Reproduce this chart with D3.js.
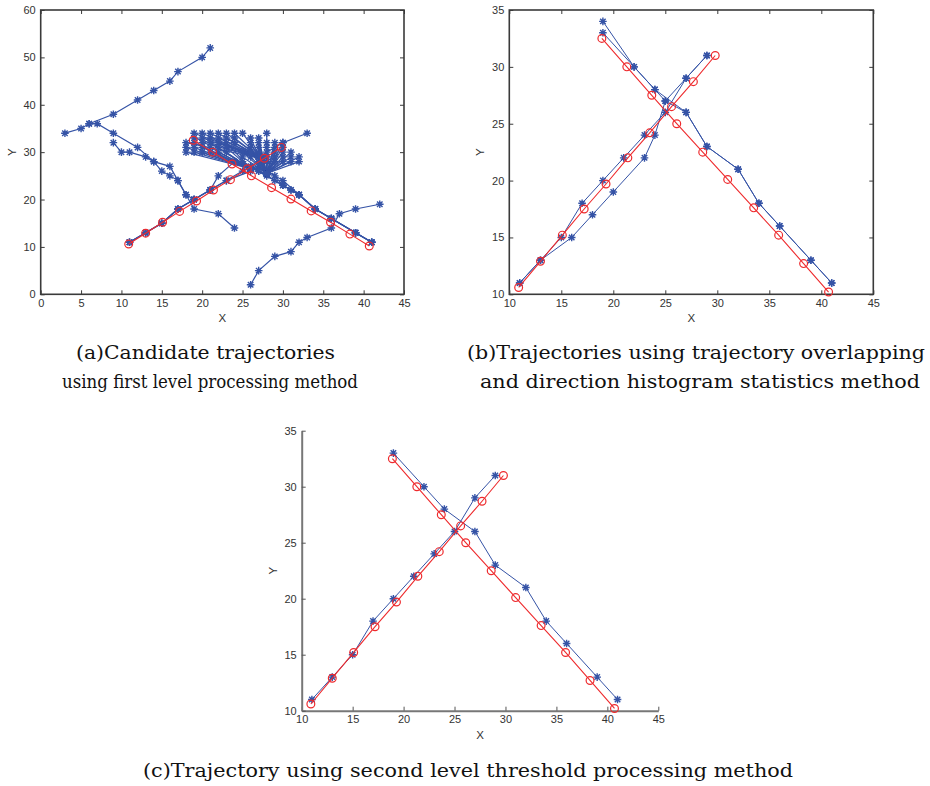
<!DOCTYPE html>
<html>
<head>
<meta charset="utf-8">
<script src="https://cdn.jsdelivr.net/npm/d3@7"></script>
<style>
body{margin:0;background:#fff}
svg{display:block}
</style>
</head>
<body>
<svg id="fig" width="930" height="786"></svg>
<script>
// ground truth (red) - same in all three panels
const redRising  = [[10.9,10.6],[13.0,12.9],[15.1,15.2],[17.2,17.5],[19.3,19.7],[21.4,22.0],[23.5,24.2],[25.6,26.5],[27.7,28.7],[29.8,31.0]]
const redFalling = [[18.9,32.5],[21.3,30.0],[23.7,27.5],[26.1,25.0],[28.6,22.5],[31.0,20.1],[33.5,17.6],[35.9,15.2],[38.3,12.7],[40.7,10.2]]

// (a) candidate trajectories
const aTracks = [
	[[3,34],[5,35],[6,36],[9,38],[12,41],[14,43],[16,45],[17,47],[20,50],[21,52]],
	[[6,36],[7,36],[9,34],[12,31],[14,28],[16,27],[17,24],[18,21],[19,20]],
	[[9,32],[10,30],[11,30],[13,29],[14,28],[15,26],[16,25],[17,24],[18,21],[19,18],[22,17],[24,14]],
	[[26,2],[27,5],[29,8],[31,9],[32,11],[33,12],[36,14],[37,17],[39,18],[42,19]],
	[[11,11],[13,13],[15,15],[17,18],[19,20],[21,22],[23,24],[25,26],[27,28],[28,29]],
	[[11,11],[13,13],[15,15],[17,18],[19,20],[21,22],[23,24],[26,26],[28,28]],
	[[11,11],[13,13],[15,15],[17,18],[19,20],[21,22],[22,25],[24,28]],
	[[24,28],[26,27],[28,25],[30,23],[32,21],[34,18],[36,16],[39,13],[41,11]],
	[[25,28],[27,26],[29,24],[31,22],[32,21],[34,18],[36,16],[39,13],[41,11]],
	[[26,27],[28,26],[30,24],[32,21],[34,18],[36,16],[39,13],[41,11]],
	[[27,27],[29,25],[30,23],[31,22],[32,21],[34,18],[36,16],[39,13],[41,11]],
	[[27,29],[30,32],[33,34]],
	[[24,28],[27,26],[30,23]]
]
const aLeftUpper = [
	[19,34],[20,34],[21,34],[22,34],[23,34],[24,34],[25,34],
	[19,33],[20,33],[21,33],[22,33],[23,33],[24,33],
	[18,32],[20,32],[22,32],[24,32]
]
const aLeftUpperHub = [27.3,28.7]
const aLeftLower = [
	[19,32],[21,32],[23,32],
	[18,31],[19,31],[20,31],[21,31],[22,31],[23,31],
	[18,30],[19,30],[20,30],[21,30],[22,30],[23,30]
]
const aLeftLowerHub = [26,26.5]
const aRightBlock = [
	[26,33],[27,33],[28,34],
	[26,32],[27,32],[28,32],[29,32],[30,32],
	[26,31],[27,31],[28,31],[29,31],[30,31],
	[25,30],[26,30],[27,30],[28,30],[29,30],[30,30],[31,30],
	[25,29],[26,29],[27,29],[28,29],[29,29],[30,29],[31,29],[32,29],
	[27,28],[28,28],[29,28],[30,28],[31,28],[32,28]
]
const aRightHub = [28,25.5]

// (b) trajectories after overlapping / direction histogram
const bTracks = [
	[[11,11],[13,13],[15,15],[17,18],[19,20],[21,22],[23,24],[25,26],[27,29],[29,31]],
	[[11,11],[13,13],[16,15],[18,17],[20,19],[23,22],[24,24],[25,27],[27,29],[29,31]],
	[[19,34],[22,30],[24,28],[27,26],[29,23],[32,21],[34,18],[36,16],[39,13],[41,11]],
	[[19,33],[22,30],[24,28],[25,27],[27,26],[29,23],[32,21],[34,18],[36,16],[39,13],[41,11]]
]

// (c) after second level threshold
const cTracks = [
	[[11,11],[13,13],[15,15],[17,18],[19,20],[21,22],[23,24],[25,26],[27,29],[29,31]],
	[[19,33],[22,30],[24,28],[27,26],[29,23],[32,21],[34,18],[36,16],[39,13],[41,11]]
]

const ticksA = {x:[0,5,10,15,20,25,30,35,40,45], y:[0,10,20,30,40,50,60]}
const ticksBC = {x:[10,15,20,25,30,35,40,45], y:[10,15,20,25,30,35]}

const captions = [
	{text:"(a)Candidate trajectories", x:76, y:359, w:259},
	{text:"using first level processing method", x:62, y:388, w:296},
	{text:"(b)Trajectories using trajectory overlapping", x:467, y:359, w:458},
	{text:"and direction histogram statistics method", x:480, y:388, w:440},
	{text:"(c)Trajectory using second level threshold processing method", x:143, y:777, w:650}
]

const BLUE = "#3553a6", RED = "#ee2a2d", INK = "#333"

const svg = d3.select("#fig")

function starPath(s){
	const d = s*0.72
	return "M"+(-s)+",0H"+s+"M0,"+(-s)+"V"+s+"M"+(-d)+","+(-d)+"L"+d+","+d+"M"+(-d)+","+d+"L"+d+","+(-d)
}

function panel(cfg){
	const g = svg.append("g")
	const x = d3.scaleLinear().domain(cfg.xd).range(cfg.xr)
	const y = d3.scaleLinear().domain(cfg.yd).range(cfg.yr)
	const line = d3.line().x(d=>x(d[0])).y(d=>y(d[1]))

	const ax = g.append("g").attr("class","axes")
	ax.append("g").attr("transform","translate(0,"+cfg.yr[0]+")")
		.call(d3.axisBottom(x).tickValues(cfg.ticks.x).tickSizeInner(-4).tickSizeOuter(0).tickPadding(5))
	ax.append("g").attr("transform","translate("+cfg.xr[0]+",0)")
		.call(d3.axisLeft(y).tickValues(cfg.ticks.y).tickSizeInner(-4).tickSizeOuter(0).tickPadding(5))
	if (cfg.box){
		ax.append("g").attr("transform","translate(0,"+cfg.yr[1]+")")
			.call(d3.axisTop(x).tickValues(cfg.ticks.x).tickSizeInner(-4).tickSizeOuter(0).tickFormat(""))
		ax.append("g").attr("transform","translate("+cfg.xr[1]+",0)")
			.call(d3.axisRight(y).tickValues(cfg.ticks.y).tickSizeInner(-4).tickSizeOuter(0).tickFormat(""))
		ax.selectAll(".domain").remove()
		ax.append("rect")
			.attr("x",cfg.xr[0]).attr("y",cfg.yr[1])
			.attr("width",cfg.xr[1]-cfg.xr[0]).attr("height",cfg.yr[0]-cfg.yr[1])
			.attr("fill","none").attr("stroke","#3a3a3a").attr("stroke-width",1.6)
	} else {
		ax.selectAll(".domain").attr("stroke","#777").attr("stroke-width",2)
	}
	ax.selectAll(".tick line").attr("stroke",cfg.box ? "#3a3a3a" : "#555")
	ax.selectAll(".tick text").attr("fill",INK)
		.style("font-family","'Liberation Sans', Arial, sans-serif").style("font-size","11px")

	g.append("text").text("X")
		.attr("x",(cfg.xr[0]+cfg.xr[1])/2).attr("y",cfg.yr[0]+28)
		.attr("text-anchor","middle").attr("fill",INK)
		.style("font-family","'Liberation Sans', Arial, sans-serif").style("font-size","11.5px")
	g.append("text").text("Y")
		.attr("transform","translate("+(cfg.xr[0]-25)+","+((cfg.yr[0]+cfg.yr[1])/2)+") rotate(-90)")
		.attr("text-anchor","middle").attr("fill",INK)
		.style("font-family","'Liberation Sans', Arial, sans-serif").style("font-size","11.5px")

	const blue = g.append("g")
	blue.selectAll("path.trk").data(cfg.tracks).enter().append("path")
		.attr("d",line).attr("fill","none").attr("stroke",BLUE).attr("stroke-width",cfg.lw || 1)
	const pts = cfg.tracks.flat()
	blue.selectAll("path.star").data(pts).enter().append("path")
		.attr("d",starPath(3.8))
		.attr("transform",d=>"translate("+x(d[0])+","+y(d[1])+")")
		.attr("fill","none").attr("stroke",BLUE).attr("stroke-width",1.4)

	const red = g.append("g")
	red.selectAll("path").data([redRising,redFalling]).enter().append("path")
		.attr("d",line).attr("fill","none").attr("stroke",RED).attr("stroke-width",1.1)
	red.selectAll("circle").data(redRising.concat(redFalling)).enter().append("circle")
		.attr("cx",d=>x(d[0])).attr("cy",d=>y(d[1])).attr("r",3.9)
		.attr("fill","none").attr("stroke",RED).attr("stroke-width",1.2)
}

const aAll = aTracks
	.concat(aLeftUpper.map(p=>[p,aLeftUpperHub]))
	.concat(aLeftLower.map(p=>[p,aLeftLowerHub]))
	.concat(aRightBlock.map(p=>[p,aRightHub]))

panel({xd:[0,45], yd:[0,60], xr:[40.7,404], yr:[294.3,10], ticks:ticksA, box:true, tracks:aAll, lw:1.2})
panel({xd:[10,45], yd:[10,35], xr:[509.3,873.3], yr:[294.3,10], ticks:ticksBC, box:true, tracks:bTracks})
panel({xd:[10,45], yd:[10,35], xr:[301.7,658.3], yr:[710.7,430.7], ticks:ticksBC, box:false, tracks:cTracks})

svg.append("g").selectAll("text").data(captions).enter().append("text")
	.text(d=>d.text)
	.attr("x",d=>d.x).attr("y",d=>d.y)
	.attr("textLength",d=>d.w).attr("lengthAdjust","spacingAndGlyphs")
	.attr("fill","#111")
	.style("font-family","'DejaVu Serif', serif")
	.style("font-size","19px")
</script>
</body>
</html>
